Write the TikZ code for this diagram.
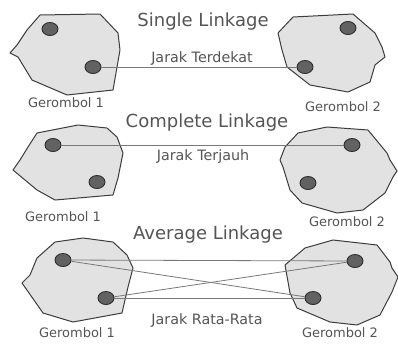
\documentclass[tikz,border=0pt]{standalone}
\usepackage{fontspec}
\setmainfont{DejaVu Sans}
\usetikzlibrary{shapes.geometric}
\definecolor{clfill}{HTML}{E2E2E2}
\definecolor{cledge}{HTML}{3C3C3C}
\definecolor{dotfill}{HTML}{626262}
\definecolor{dotedge}{HTML}{2E2E2E}
\definecolor{linkc}{HTML}{787878}
\definecolor{txtc}{HTML}{555555}
\tikzset{
  cluster/.style={fill=clfill, draw=cledge, line width=1pt, line join=round},
  pt/.style={ellipse, fill=dotfill, draw=dotedge, line width=0.9pt, minimum width=16pt, minimum height=13pt, inner sep=0pt},
  link/.style={draw=linkc, line width=0.8pt},
  title/.style={text=txtc, font=\fontsize{18}{21}\selectfont},
  dist/.style={text=txtc, font=\fontsize{14.3}{17}\selectfont},
  glabel/.style={text=txtc, font=\fontsize{13}{16}\selectfont}
}
\begin{document}
\begin{tikzpicture}[x=1pt,y=-1pt]
\path[use as bounding box, fill=white] (0,0) rectangle (398,343);
% ---------- Panel 1: Single Linkage ----------
\path[cluster] (40,15) -- (100,14) -- (118,33) -- (120,50) -- (113,90) -- (67,95) -- (32,80) -- (18,57) -- (10,53) -- (17,45) -- (27,30) -- cycle;
\path[cluster] (293,17) -- (353,14) -- (375,33) -- (382,47) -- (385,57) -- (375,65) -- (370,82) -- (348,92) -- (310,85) -- (287,67) -- (282,50) -- (278,33) -- cycle;
\node[pt] (a1) at (50,29) {};
\node[pt] (a2) at (93,67) {};
\node[pt] (a3) at (348,28) {};
\node[pt] (a4) at (305,67) {};
\draw[link] (a2) -- (a4);
\node[title] (t1) at (203,22) {Single Linkage};
\node[dist] (d1) at (202,58) {Jarak Terdekat};
\node[glabel] (g11) at (66,103) {Gerombol 1};
\node[glabel] (g12) at (343,107) {Gerombol 2};
% ---------- Panel 2: Complete Linkage ----------
\path[cluster] (37,133) -- (78,125) -- (107,128) -- (117,137) -- (123,153) -- (118,178) -- (113,195) -- (55,200) -- (37,190) -- (13,170) -- (20,160) -- (28,147) -- cycle;
\path[cluster] (298,133) -- (327,127) -- (368,130) -- (387,153) -- (390,160) -- (397,171) -- (393,177) -- (385,193) -- (363,210) -- (337,213) -- (302,203) -- (290,190) -- (283,167) -- (280,160) -- (285,147) -- cycle;
\node[pt] (b1) at (53,145) {};
\node[pt] (b2) at (97,182) {};
\node[pt] (b3) at (352,145) {};
\node[pt] (b4) at (308,183) {};
\draw[link] (b1) -- (b3);
\node[title] (t2) at (207,123) {Complete Linkage};
\node[dist] (d2) at (203,157) {Jarak Terjauh};
\node[glabel] (g21) at (63,217) {Gerombol 1};
\node[glabel] (g22) at (347,222) {Gerombol 2};
% ---------- Panel 3: Average Linkage ----------
\path[cluster] (55,242) -- (83,238) -- (113,242) -- (127,255) -- (133,268) -- (128,287) -- (122,313) -- (73,322) -- (43,313) -- (22,283) -- (30,275) -- (37,258) -- cycle;
\path[cluster] (305,248) -- (333,240) -- (377,245) -- (390,262) -- (392,268) -- (398,277) -- (392,292) -- (380,315) -- (357,325) -- (330,322) -- (297,308) -- (290,293) -- (285,265) -- cycle;
\node[pt] (c1) at (63,260) {};
\node[pt] (c2) at (106,298) {};
\node[pt] (c3) at (355,261) {};
\node[pt] (c4) at (313,298) {};
\draw[link] (c1) -- (c3);
\draw[link] (c1) -- (c4);
\draw[link] (c2) -- (c3);
\draw[link] (c2) -- (c4);
\node[title] (t3) at (208,235) {Average Linkage};
\node[dist] (d3) at (207,320) {Jarak Rata-Rata};
\node[glabel] (g31) at (77,333) {Gerombol 1};
\node[glabel] (g32) at (340,333) {Gerombol 2};
\end{tikzpicture}
\end{document}
